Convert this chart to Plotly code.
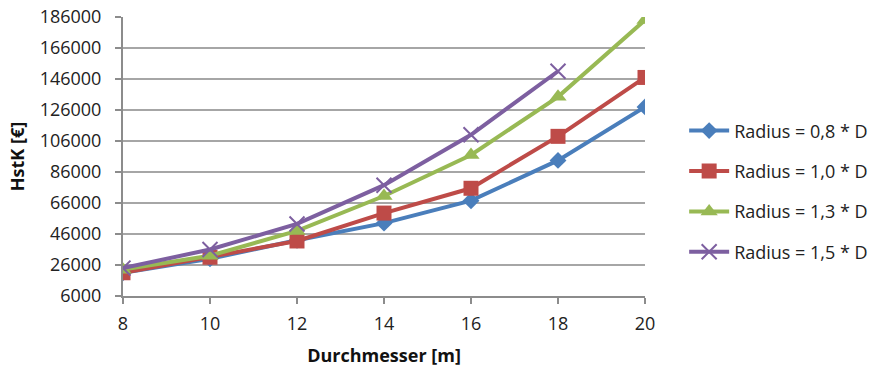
import plotly.graph_objects as go

durchmesser = [8, 10, 12, 14, 16, 18, 20]
r08 = [21000, 30000, 42000, 53000, 67500, 93500, 128000]
r10 = [21000, 31000, 41500, 59500, 75500, 109000, 147000]
r13 = [23000, 32000, 48000, 70500, 97000, 134500, 184000]
r15 = [24000, 36000, 52500, 77500, 110000, 151000, None]
names = ["Radius = 0,8 * D", "Radius = 1,0 * D", "Radius = 1,3 * D", "Radius = 1,5 * D"]
colors = ["#4a7ebb", "#be4b48", "#98b954", "#7d5fa0"]
symbols = ["diamond", "square", "triangle-up", "x-thin"]
sizes = [13, 15, 15, 15]
series = [r08, r10, r13, r15]

FONT = "Open Sans"
FS = 18

fig = go.Figure()
for i, (vals, name, col, sym, sz) in enumerate(zip(series, names, colors, symbols, sizes)):
    marker = dict(symbol=sym, size=sz, color=col)
    if sym == "x-thin":
        marker["line"] = dict(color=col, width=2)
    fig.add_trace(go.Scatter(
        x=durchmesser, y=vals, name=name, mode="lines+markers",
        line=dict(color=col, width=4), marker=marker,
        legendgroup=f"g{i}",
    ))

fig.update_layout(
    width=876, height=369,
    margin=dict(l=123, r=231, t=17, b=73, autoexpand=False),
    paper_bgcolor="white", plot_bgcolor="white",
    font=dict(family=FONT, size=FS, color="#222222"),
    showlegend=True,
    legend=dict(x=1.075, y=0.375, xanchor="left", yanchor="middle",
                font=dict(family=FONT, size=FS, color="#222222"),
                traceorder="grouped", tracegroupgap=14, itemwidth=40),
    xaxis=dict(range=[8, 20], dtick=2, tick0=8, showgrid=False,
               showline=True, linecolor="#8c8c8c", linewidth=2,
               ticks="outside", ticklen=6, tickcolor="#8c8c8c", tickwidth=1.5,
               tickfont=dict(family=FONT, size=FS, color="#222222"),
               ticklabelstandoff=4, automargin=False,
               title=dict(text="<b>Durchmesser [m]</b>", standoff=16,
                          font=dict(family=FONT, size=FS, color="#111111")),
               zeroline=False),
    yaxis=dict(range=[6000, 186000], dtick=20000, tick0=6000, tickformat="d",
               showgrid=True, gridcolor="#a6a6a6", gridwidth=1.5,
               showline=True, linecolor="#8c8c8c", linewidth=2,
               ticks="outside", ticklen=6, tickcolor="#8c8c8c", tickwidth=1.5,
               tickfont=dict(family=FONT, size=FS, color="#222222"),
               ticklabelstandoff=10, automargin=False,
               title=dict(text="<b>HstK [€]</b>", standoff=10,
                          font=dict(family=FONT, size=FS, color="#111111")),
               zeroline=False),
)

fig.write_html("out.html")
